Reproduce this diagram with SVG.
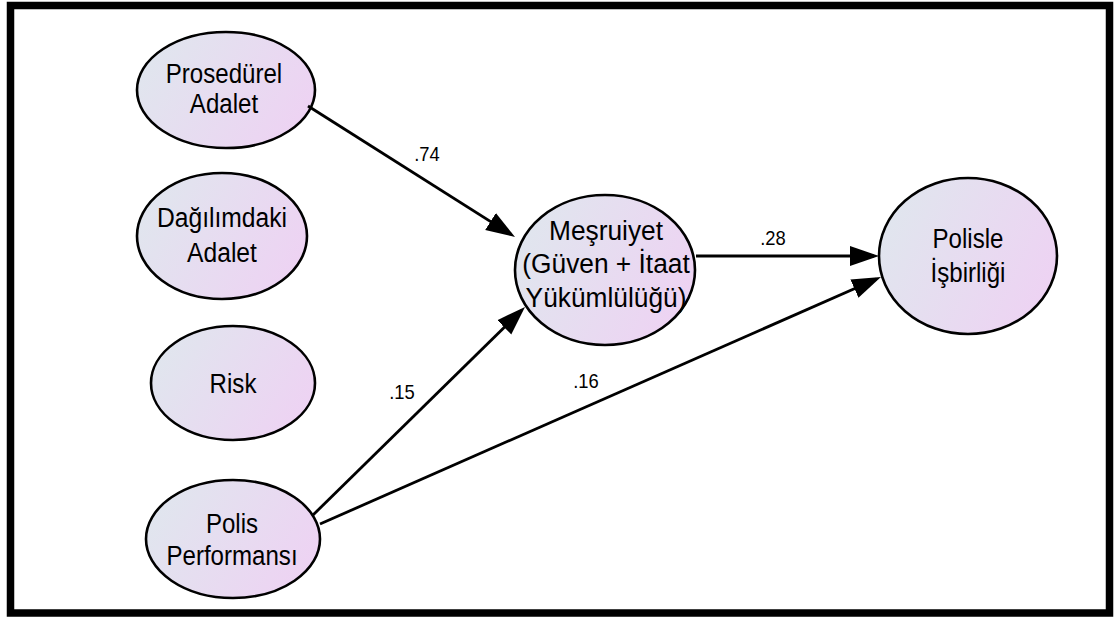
<svg xmlns="http://www.w3.org/2000/svg" width="1115" height="619" viewBox="0 0 1115 619">
<style>
.node{stroke:#000;stroke-width:2.6;fill:url(#g)}
.t{font-family:"Liberation Sans",Arial,sans-serif;font-size:28px;fill:#000;text-anchor:middle}
.lbl{font-family:"Liberation Sans",Arial,sans-serif;font-size:20px;fill:#000;text-anchor:middle}
.c{stroke:#000;stroke-width:2.8;fill:none;marker-end:url(#ah)}
</style>
<defs>
<linearGradient id="g" x1="0" y1="0.3" x2="1" y2="0.7">
<stop offset="0" stop-color="#e0e6ee"/>
<stop offset="1" stop-color="#eed2f3"/>
</linearGradient>
<marker id="ah" markerUnits="userSpaceOnUse" markerWidth="30" markerHeight="22" refX="24" refY="11" orient="auto">
<path d="M0,1 L29,11 L0,21 z" fill="#000"/>
</marker>
</defs>
<rect x="0" y="0" width="1115" height="619" fill="#fff"/>
<rect x="10.5" y="5.5" width="1099" height="607.5" fill="none" stroke="#000" stroke-width="7.5"/>
<g id="n-prosedurel">
<ellipse class="node" cx="226" cy="90" rx="89" ry="58"/>
<text class="t" transform="translate(224,0) scale(0.86,1)"><tspan x="0" y="83">Prosedürel</tspan><tspan x="0" y="113">Adalet</tspan></text>
</g>
<g id="n-dagilimdaki">
<ellipse class="node" cx="222" cy="236" rx="85" ry="63"/>
<text class="t" transform="translate(222,0) scale(0.88,1)"><tspan x="0" y="227">Dağılımdaki</tspan><tspan x="0" y="262">Adalet</tspan></text>
</g>
<g id="n-risk">
<ellipse class="node" cx="233" cy="383" rx="82" ry="57"/>
<text class="t" transform="translate(233,0) scale(0.86,1)"><tspan x="0" y="393">Risk</tspan></text>
</g>
<g id="n-polis">
<ellipse class="node" cx="233" cy="539" rx="87" ry="59"/>
<text class="t" transform="translate(232,0) scale(0.86,1)"><tspan x="0" y="533">Polis</tspan><tspan x="0" y="565">Performansı</tspan></text>
</g>
<g id="n-mesruiyet">
<ellipse class="node" cx="605" cy="270" rx="90" ry="75"/>
<text class="t" transform="translate(606,0) scale(0.94,1)"><tspan x="0" y="240">Meşruiyet</tspan><tspan x="0" y="273">(Güven + İtaat</tspan><tspan x="0" y="307">Yükümlülüğü)</tspan></text>
</g>
<g id="n-isbirligi">
<ellipse class="node" cx="968" cy="256" rx="89" ry="78"/>
<text class="t" transform="translate(968,0) scale(0.86,1)"><tspan x="0" y="248">Polisle</tspan><tspan x="0" y="282">İşbirliği</tspan></text>
</g>
<g id="connectors">
<line class="c" x1="308" y1="106" x2="510.8" y2="234.3"/>
<line class="c" x1="696" y1="256" x2="874" y2="256"/>
<line class="c" x1="313" y1="515" x2="521.4" y2="310.5"/>
<line class="c" x1="320" y1="524" x2="876.4" y2="279"/>
<text class="lbl" transform="translate(427,0) scale(0.92,1)" x="0" y="161">.74</text>
<text class="lbl" transform="translate(773,0) scale(0.92,1)" x="0" y="245">.28</text>
<text class="lbl" transform="translate(402,0) scale(0.92,1)" x="0" y="399">.15</text>
<text class="lbl" transform="translate(586,0) scale(0.92,1)" x="0" y="388">.16</text>
</g>
</svg>
